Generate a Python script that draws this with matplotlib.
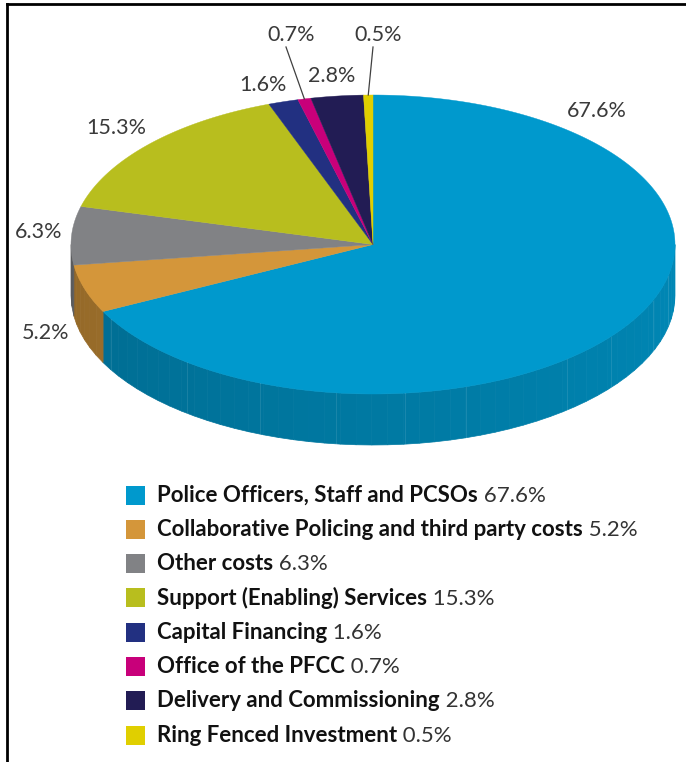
import numpy as np
import matplotlib.pyplot as plt
from matplotlib.patches import Polygon, Rectangle
from matplotlib.colors import to_rgb
from matplotlib.lines import Line2D

plt.rcParams['font.family'] = ['Lato', 'DejaVu Sans']

# data
names = ['Police Officers, Staff and PCSOs',
         'Collaborative Policing and third party costs',
         'Other costs',
         'Support (Enabling) Services',
         'Capital Financing',
         'Office of the PFCC',
         'Delivery and Commissioning',
         'Ring Fenced Investment']
values = [67.6, 5.2, 6.3, 15.3, 1.6, 0.7, 2.8, 0.5]
colors = ['#0099cd', '#d4963a', '#818285', '#b8be1e',
          '#223081', '#c8007a', '#221c54', '#e0cf00']

# where the percent labels sit (pixels), and which ones get a leader line
label_pos = [(597, 111), (46, 333), (39, 232), (116, 128),
             (263, 85), (291, 35), (332, 76), (378, 35)]
leader = [False, False, False, False, False, True, False, True]

# pie geometry in pixels
cx, cy, rx, ry, depth = 373, 244.5, 302, 149.5, 51

fig = plt.figure(figsize=(6.86, 7.62), dpi=100)
ax = fig.add_axes([0, 0, 1, 1])
ax.set_xlim(0, 686)
ax.set_ylim(762, 0)
ax.axis('off')


def pt(t, dy=0.0):
    t = np.radians(t)
    return cx + rx * np.cos(t), cy - ry * np.sin(t) + dy


vals = np.array(values)
bounds = 90 - 3.6 * np.concatenate([[0], np.cumsum(vals)])

# side walls (only the front half is visible)
for i, c in enumerate(colors):
    hi = min(bounds[i], 0)
    lo = max(bounds[i + 1], -180)
    if hi <= lo:
        continue
    n = max(2, int((hi - lo) / 3) + 1)
    ts = np.linspace(lo, hi, n)
    base = np.array(to_rgb(c))
    for a, b in zip(ts[:-1], ts[1:]):
        m = (a + b) / 2
        f = 0.69 + 0.2 * (m + 180) / 180
        poly = [pt(a), pt(b), pt(b, depth), pt(a, depth)]
        ax.add_patch(Polygon(poly, closed=True, facecolor=base * f,
                             edgecolor=base * f, lw=0.5))

# faint seams on the wall
for t in [-150, -128, -112, -97, -84, -72, -50, -38, -22, -12]:
    x0, y0 = pt(t)
    x1, y1 = pt(t, depth)
    ax.plot([x0, x1], [y0, y1], color='white', alpha=0.1, lw=0.8)

# top faces
for i, c in enumerate(colors):
    ts = np.linspace(bounds[i], bounds[i + 1], max(3, int(abs(bounds[i] - bounds[i + 1])) + 2))
    poly = [(cx, cy)] + [pt(t) for t in ts]
    ax.add_patch(Polygon(poly, closed=True, facecolor=c, edgecolor=c, lw=0.3))

# percent labels
for i, v in enumerate(values):
    x, y = label_pos[i]
    ax.text(x, y, f'{v}%', ha='center', va='center', fontsize=15.5, color='#3a3a3a')
    if leader[i]:
        mid = (bounds[i] + bounds[i + 1]) / 2
        ex, ey = pt(mid)
        ax.plot([x - 5, ex], [y + 12, ey], color='#404040', lw=0.9)

# legend
for i, (nm, v, c) in enumerate(zip(names, values, colors)):
    y = 495 + 34.3 * i
    ax.add_patch(Rectangle((126, y - 9.5), 19, 19, facecolor=c, edgecolor='none'))
    t = ax.text(157, y, nm, ha='left', va='center', fontsize=16,
                fontweight='bold', color='#111111')
    ax.annotate(f' {v}%', xy=(1, 0), xycoords=t, ha='left', va='bottom',
                fontsize=16, color='#333333')

# frame lines (left and top only)
fig.add_artist(Line2D([7 / 686, 7 / 686], [0, 1 - 4 / 762], color='black', lw=2))
fig.add_artist(Line2D([7 / 686, 1], [1 - 4 / 762, 1 - 4 / 762], color='black', lw=2))

fig.savefig('out.png', dpi=100, facecolor='white')
